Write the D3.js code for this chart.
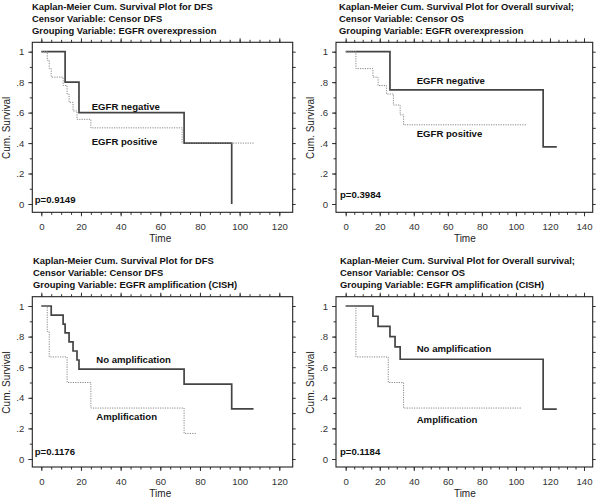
<!DOCTYPE html>
<html>
<head>
<meta charset="utf-8">
<script src="https://cdn.jsdelivr.net/npm/d3@7"></script>
<style>
  body { margin: 0; background: #fff; }
  text { font-family: "Liberation Sans", Arial, sans-serif; }
</style>
</head>
<body>
<svg id="chart" width="600" height="500"></svg>
<script>
// ---- data ----
// panel 1: DFS by EGFR overexpression
const dfsNegTime = [0, 12, 19, 72, 96];
const dfsNegSurv = [1, 0.8, 0.6, 0.4, 0];
const dfsNegEnd = 96;
const dfsPosTime = [0, 3, 4, 5, 11, 13, 14, 16, 18, 25, 71];
const dfsPosSurv = [1, 0.944, 0.889, 0.833, 0.778, 0.722, 0.667, 0.611, 0.556, 0.5, 0.4];
const dfsPosEnd = 107;

// panel 2: OS by EGFR overexpression
const osNegTime = [0, 26, 116];
const osNegSurv = [1, 0.75, 0.375];
const osNegEnd = 124;
const osPosTime = [0, 6, 16, 19, 24, 28, 32, 34];
const osPosSurv = [1, 0.889, 0.833, 0.778, 0.722, 0.65, 0.585, 0.52];
const osPosEnd = 106;

// panel 3: DFS by EGFR amplification
const dfsNoAmpTime = [0, 5, 11, 12, 14, 16, 18, 19, 72, 96];
const dfsNoAmpSurv = [1, 0.941, 0.882, 0.824, 0.765, 0.706, 0.647, 0.588, 0.49, 0.327];
const dfsNoAmpEnd = 107;
const dfsAmpTime = [0, 3, 4, 13, 25, 72];
const dfsAmpSurv = [1, 0.833, 0.667, 0.5, 0.333, 0.167];
const dfsAmpEnd = 78;

// panel 4: OS by EGFR amplification
const osNoAmpTime = [0, 16, 19, 26, 29, 32, 116];
const osNoAmpSurv = [1, 0.933, 0.867, 0.8, 0.733, 0.652, 0.326];
const osNoAmpEnd = 124;
const osAmpTime = [0, 6, 25, 34];
const osAmpSurv = [1, 0.667, 0.5, 0.333];
const osAmpEnd = 103;

const xTicksDFS = [0, 20, 40, 60, 80, 100, 120];
const xTicksOS = [0, 20, 40, 60, 80, 100, 120, 140];
const yTicks = [0, 0.2, 0.4, 0.6, 0.8, 1];
const yTickLabels = ["0", ".2", ".4", ".6", ".8", "1"];

const pValues = ["p=0.9149", "p=0.3984", "p=0.1176", "p=0.1184"];
const titles = [
  ["Kaplan-Meier Cum. Survival Plot for DFS", "Censor Variable: Censor DFS", "Grouping Variable: EGFR overexpression"],
  ["Kaplan-Meier Cum. Survival Plot for Overall survival;", "Censor Variable: Censor OS", "Grouping Variable: EGFR overexpression"],
  ["Kaplan-Meier Cum. Survival Plot for DFS", "Censor Variable: Censor DFS", "Grouping Variable: EGFR amplification (CISH)"],
  ["Kaplan-Meier Cum. Survival Plot for Overall survival;", "Censor Variable: Censor OS", "Grouping Variable: EGFR amplification (CISH)"]
];
const groupNames = [
  ["EGFR negative", "EGFR positive"],
  ["EGFR negative", "EGFR positive"],
  ["No amplification", "Amplification"],
  ["No amplification", "Amplification"]
];

// ---- layout ----
const panels = [
  { box: [32.3, 292.7, 42.3, 212.3], xr: [41.3, 279.3], yr: [204, 51.7], xMax: 120, xTicks: xTicksDFS,
    tx: 32, ty: 9.5, curves: [[dfsNegTime, dfsNegSurv, dfsNegEnd], [dfsPosTime, dfsPosSurv, dfsPosEnd]],
    lab: [[25.4, 0.643], [25.4, 0.409]], p: [34.7, 199.3] },
  { box: [336, 592.7, 42.3, 212.3], xr: [345.7, 584], yr: [204, 51.7], xMax: 140, xTicks: xTicksOS,
    tx: 339, ty: 9.5, curves: [[osNegTime, osNegSurv, osNegEnd], [osPosTime, osPosSurv, osPosEnd]],
    lab: [[41.7, 0.808], [41.7, 0.462]], p: [340, 194.3] },
  { box: [32.3, 292.7, 296.7, 467], xr: [41.3, 279.3], yr: [459, 306], xMax: 120, xTicks: xTicksDFS,
    tx: 33, ty: 263.5, curves: [[dfsNoAmpTime, dfsNoAmpSurv, dfsNoAmpEnd], [dfsAmpTime, dfsAmpSurv, dfsAmpEnd]],
    lab: [[27.7, 0.652], [27.7, 0.276]], p: [34.7, 451.7] },
  { box: [336, 592.7, 296.7, 467], xr: [345.7, 584], yr: [459, 306], xMax: 140, xTicks: xTicksOS,
    tx: 340, ty: 263.5, curves: [[osNoAmpTime, osNoAmpSurv, osNoAmpEnd], [osAmpTime, osAmpSurv, osAmpEnd]],
    lab: [[41.7, 0.719], [41.7, 0.255]], p: [340, 451.7] }
];

const svg = d3.select("#chart");

panels.forEach((pn, i) => {
  const [bx0, bx1, by0, by1] = pn.box;
  const x = d3.scaleLinear().domain([0, pn.xMax]).range(pn.xr);
  const y = d3.scaleLinear().domain([0, 1]).range(pn.yr);
  const g = svg.append("g");

  // title, one text per line
  titles[i].forEach((line, k) => {
    g.append("text")
      .attr("x", pn.tx).attr("y", pn.ty + k * 12.3)
      .attr("font-size", 9.4).attr("font-weight", "bold").attr("fill", "#111")
      .text(line);
  });

  const xMinor = d3.range(0, pn.xMax + 0.1, 5);
  const yMinor = d3.range(0, 1.01, 0.1);

  const styleAxis = a => {
    a.select(".domain").remove();
    a.selectAll("line").attr("stroke", "#333");
    a.selectAll("text").attr("font-size", 9.6).attr("fill", "#333")
      .style("font-family", "'Liberation Sans', Arial, sans-serif");
  };

  // bottom
  g.append("g").attr("transform", `translate(0,${by1})`)
    .call(d3.axisBottom(x).tickValues(xMinor).tickSize(2.5).tickFormat(""))
    .call(styleAxis);
  g.append("g").attr("transform", `translate(0,${by1})`)
    .call(d3.axisBottom(x).tickValues(pn.xTicks).tickSize(4).tickPadding(7).tickFormat(d3.format("d")))
    .call(styleAxis);
  // top
  g.append("g").attr("transform", `translate(0,${by0})`)
    .call(d3.axisTop(x).tickValues(xMinor).tickSize(2.5).tickFormat(""))
    .call(styleAxis);
  g.append("g").attr("transform", `translate(0,${by0})`)
    .call(d3.axisTop(x).tickValues(pn.xTicks).tickSize(4).tickFormat(""))
    .call(styleAxis);
  // left
  g.append("g").attr("transform", `translate(${bx0},0)`)
    .call(d3.axisLeft(y).tickValues(yMinor).tickSize(2.5).tickFormat(""))
    .call(styleAxis);
  g.append("g").attr("transform", `translate(${bx0},0)`)
    .call(d3.axisLeft(y).tickValues(yTicks).tickSize(4).tickPadding(4)
      .tickFormat((d, k) => yTickLabels[k]))
    .call(styleAxis);
  // right
  g.append("g").attr("transform", `translate(${bx1},0)`)
    .call(d3.axisRight(y).tickValues(yMinor).tickSize(3).tickFormat(""))
    .call(styleAxis);

  // frame
  g.append("rect")
    .attr("x", bx0).attr("y", by0)
    .attr("width", bx1 - bx0).attr("height", by1 - by0)
    .attr("fill", "none").attr("stroke", "#222").attr("stroke-width", 1.1);

  // axis titles
  g.append("text")
    .attr("x", (pn.xr[0] + pn.xr[1]) / 2).attr("y", by1 + 30)
    .attr("text-anchor", "middle").attr("font-size", 10).attr("fill", "#222")
    .text("Time");
  g.append("text")
    .attr("transform", `translate(${bx0 - 22},${(pn.yr[0] + pn.yr[1]) / 2}) rotate(-90)`)
    .attr("text-anchor", "middle").attr("font-size", 10).attr("fill", "#222")
    .text("Cum. Survival");

  // survival curves
  const line = d3.line()
    .x(d => x(d[0])).y(d => y(d[1]))
    .curve(d3.curveStepAfter);

  pn.curves.forEach(([times, surv, end], c) => {
    const pts = times.map((tm, k) => [tm, surv[k]]);
    pts.push([end, surv[surv.length - 1]]);
    g.append("path")
      .datum(pts)
      .attr("d", line)
      .attr("fill", "none")
      .attr("stroke", c === 0 ? "#444" : "#888")
      .attr("stroke-width", c === 0 ? 1.7 : 1)
      .attr("stroke-dasharray", c === 0 ? null : "1.2,1.2");
  });

  // group labels
  pn.lab.forEach(([lt, ls], c) => {
    g.append("text")
      .attr("x", x(lt)).attr("y", y(ls)).attr("dy", "0.36em")
      .attr("font-size", 9.6).attr("font-weight", "bold").attr("fill", "#111")
      .text(groupNames[i][c]);
  });

  // p value
  g.append("text")
    .attr("x", pn.p[0]).attr("y", pn.p[1]).attr("dy", "0.36em")
    .attr("font-size", 9.6).attr("font-weight", "bold").attr("fill", "#111")
    .text(pValues[i]);
});
</script>
</body>
</html>
